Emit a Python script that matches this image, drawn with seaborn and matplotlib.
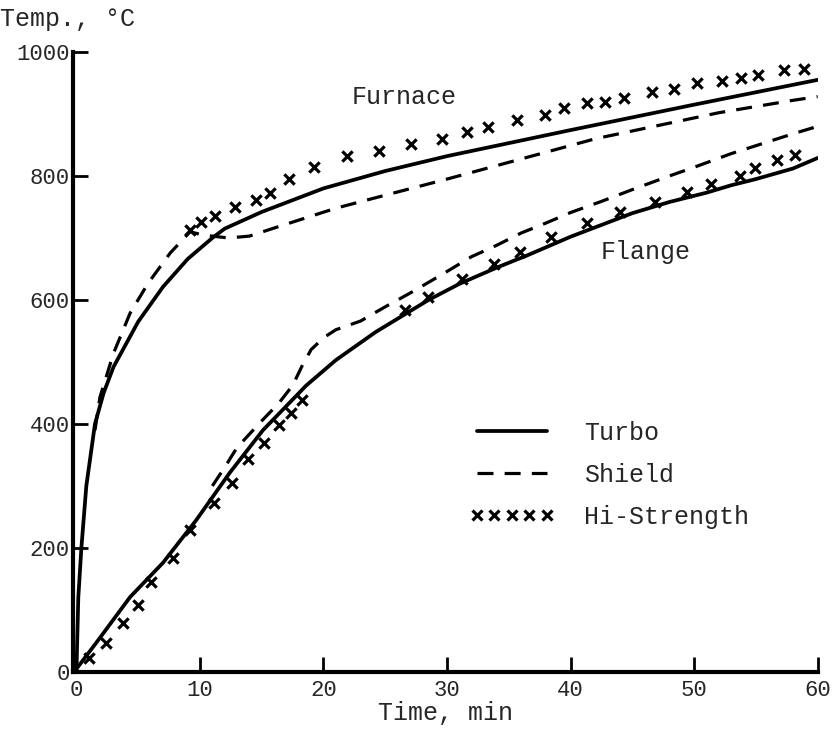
import matplotlib
matplotlib.use("Agg")
import matplotlib.pyplot as plt
from matplotlib.lines import Line2D
import seaborn as sns
import pandas as pd

# furnace curves (time in min, temperature in C)
furn_turbo_t = [0, 0.15, 0.4, 0.8, 1.5, 2.2, 3, 5, 7, 9, 11, 12, 15, 20, 25, 30, 40, 50, 60]
furn_turbo_T = [0, 120, 200, 300, 400, 450, 492, 565, 621, 666, 700, 715, 742, 780, 808, 832, 874, 915, 955]

furn_shield_t = [1.5, 1.9, 3, 4.35, 5.8, 7.6, 9.2, 10, 11, 12.3, 14, 16, 18.5, 21, 25, 30, 35, 42, 47, 52, 58, 60]
furn_shield_T = [390, 443, 514, 579, 627, 676, 710, 706, 703, 700, 703, 716, 732, 748, 769, 795, 822, 860, 881, 902, 922, 928]

furn_hs_t = [9.2, 10.1, 11.2, 12.8, 14.5, 15.7, 17.2, 19.2, 21.9, 24.5, 27.1, 29.6, 31.6, 33.3, 35.7,
             37.9, 39.5, 41.3, 42.8, 44.3, 46.6, 48.4, 50.2, 52.3, 53.8, 55.2, 57.3, 58.9]
furn_hs_T = [713, 726, 735, 750, 761, 772, 795, 814, 832, 840, 852, 860, 871, 879, 890,
             898, 910, 918, 919, 926, 935, 940, 950, 953, 958, 963, 971, 973]

# flange curves
flan_turbo_t = [0, 1.6, 4.35, 7, 9.7, 12.4, 15.1, 18.6, 21, 24.2, 26.1, 28.5, 31, 34, 36.5, 40, 45, 48, 51, 53, 55, 58, 60]
flan_turbo_T = [5, 47, 121, 176, 245, 321, 390, 462, 503, 548, 571, 600, 626, 652, 672, 702, 740, 758, 773, 785, 795, 812, 829]

flan_shield_t = [11, 12, 13, 15, 16.4, 17.5, 18.3, 19, 20, 21, 23, 25, 27, 29.5, 32, 34, 36, 38, 40, 42.5, 45, 48, 50, 53, 55.5, 58, 60]
flan_shield_T = [300, 330, 362, 405, 434, 462, 495, 520, 539, 552, 566, 589, 611, 640, 670, 688, 708, 724, 741, 759, 778, 800, 814, 836, 852, 868, 880]

flan_hs_t = [1.05, 2.4, 3.8, 5.0, 6.0, 7.8, 9.2, 11.1, 12.6, 13.9, 15.2, 16.4, 17.4, 18.3,
             26.6, 28.5, 31.2, 33.8, 35.9, 38.4, 41.3, 44, 46.8, 49.4, 51.4, 53.7, 54.9, 56.7, 58.2]
flan_hs_T = [23, 47, 79, 108, 145, 184, 229, 273, 305, 343, 369, 398, 418, 439,
             584, 605, 634, 658, 677, 702, 724, 742, 758, 774, 787, 800, 813, 826, 834]

x_ticks = [0, 10, 20, 30, 40, 50, 60]
y_ticks = [0, 200, 400, 600, 800, 1000]

sns.set_style("ticks")
plt.rcParams['font.family'] = ['Liberation Mono', 'DejaVu Sans Mono']

fig = plt.figure(figsize=(8.36, 7.32), dpi=100)
ax = fig.add_axes([0.087, 0.082, 0.891, 0.847])

for t, T in [(furn_turbo_t, furn_turbo_T), (flan_turbo_t, flan_turbo_T)]:
    sns.lineplot(x=t, y=T, ax=ax, color='black', linewidth=2.7, sort=False, estimator=None)
for t, T in [(furn_shield_t, furn_shield_T), (flan_shield_t, flan_shield_T)]:
    sns.lineplot(x=t, y=T, ax=ax, color='black', linewidth=2.3, sort=False, estimator=None,
                 linestyle=(0, (5, 3.5)))
for t, T in [(furn_hs_t, furn_hs_T), (flan_hs_t, flan_hs_T)]:
    sns.scatterplot(x=t, y=T, ax=ax, color='black', marker='x', s=55, linewidth=2.3, zorder=5)

ax.set_xlim(-0.3, 60)
ax.set_ylim(0, 1000)
ax.set_xticks(x_ticks)
ax.set_yticks(y_ticks)
ax.tick_params(axis='both', direction='in', labelsize=16, width=2, length=11, color='black')
ax.tick_params(axis='x', pad=6)
ax.tick_params(axis='y', pad=2)
for s in ['top', 'right']:
    ax.spines[s].set_visible(False)
for s in ['left', 'bottom']:
    ax.spines[s].set_linewidth(3)
    ax.spines[s].set_color('black')

ax.set_xlabel('Time, min', fontsize=18, labelpad=0)
ax.set_ylabel('')
fig.text(0.0, 0.99, 'Temp., °C', fontsize=18, ha='left', va='top')

ax.text(26.5, 927, 'Furnace', fontsize=18, ha='center', va='center')
ax.text(46.1, 677, 'Flange', fontsize=18, ha='center', va='center')

handles = [Line2D([], [], color='black', lw=2.7),
           Line2D([], [], color='black', lw=2.3, linestyle=(0, (5, 3.5))),
           Line2D([], [], color='black', marker='x', linestyle='none', markersize=7.5, mew=2.3)]
ax.legend(handles, ['Turbo', 'Shield', 'Hi-Strength'], loc='upper left', bbox_to_anchor=(0.532, 0.405),
          frameon=False, fontsize=18, handlelength=3.4, handletextpad=1.2, labelspacing=0.72,
          borderpad=0, borderaxespad=0, numpoints=5)

fig.savefig('out.png', dpi=100, facecolor='white')
